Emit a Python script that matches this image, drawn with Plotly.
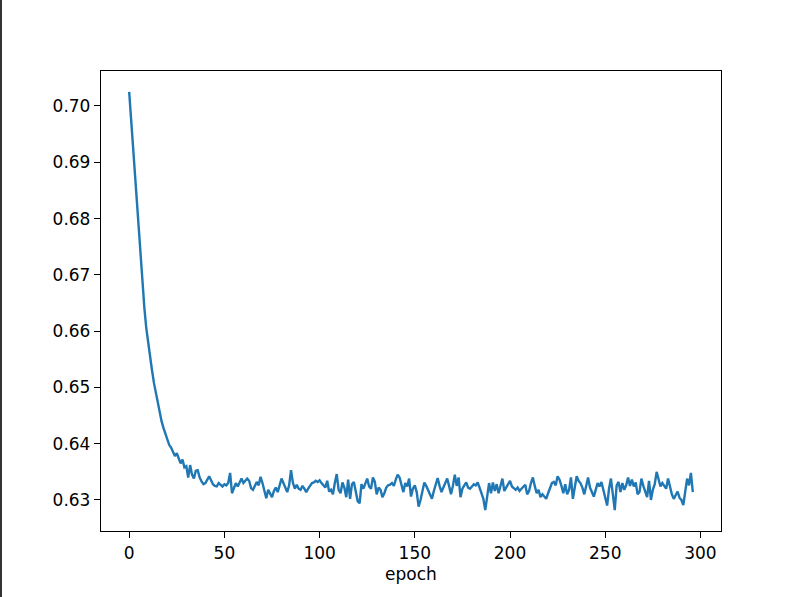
import plotly.graph_objects as go

# loss per epoch
loss = [
    0.7025, 0.6975, 0.6925, 0.6874, 0.6824, 0.6775, 0.6727, 0.6680, 0.6640, 0.6605,
    0.6578, 0.6555, 0.6530, 0.6508, 0.6490, 0.6470, 0.6452, 0.6440, 0.6428, 0.6418,
    0.6410, 0.6398, 0.6393, 0.6386, 0.6378, 0.6383, 0.6372, 0.6365, 0.6372, 0.6358,
    0.6360, 0.6340, 0.6362, 0.6345, 0.6338, 0.6352, 0.6353, 0.6340, 0.6333, 0.6328,
    0.6330, 0.6337, 0.6342, 0.6335, 0.6328, 0.6325, 0.6324, 0.6330, 0.6326, 0.6324,
    0.6328, 0.6326, 0.6330, 0.6348, 0.6312, 0.6322, 0.6330, 0.6324, 0.6332, 0.6338,
    0.6330, 0.6334, 0.6338, 0.6334, 0.6321, 0.6318, 0.6326, 0.6332, 0.6326, 0.6341,
    0.6330, 0.6315, 0.6303, 0.6318, 0.6312, 0.6305, 0.6316, 0.6322, 0.6314, 0.6328,
    0.6338, 0.6330, 0.6322, 0.6314, 0.6326, 0.6353, 0.6330, 0.6320, 0.6327, 0.6320,
    0.6318, 0.6325, 0.6320, 0.6314, 0.6320, 0.6326, 0.6330, 0.6331, 0.6334, 0.6332,
    0.6335, 0.6330, 0.6326, 0.6322, 0.6334, 0.6315, 0.6318, 0.6310, 0.6330, 0.6346,
    0.6318, 0.6312, 0.6331, 0.6322, 0.6305, 0.6336, 0.6302, 0.6328, 0.6332, 0.6314,
    0.6298, 0.6294, 0.6328, 0.6320, 0.6328, 0.6338, 0.6324, 0.6320, 0.6340, 0.6332,
    0.6310, 0.6322, 0.6318, 0.6305, 0.6312, 0.6322, 0.6326, 0.6327, 0.6330, 0.6325,
    0.6336, 0.6345, 0.6340, 0.6328, 0.6314, 0.6330, 0.6324, 0.6338, 0.6306, 0.6320,
    0.6326, 0.6314, 0.6288, 0.6300, 0.6316, 0.6331, 0.6325, 0.6318, 0.6310, 0.6302,
    0.6316, 0.6330, 0.6339, 0.6325, 0.6314, 0.6322, 0.6330, 0.6338, 0.6325, 0.6310,
    0.6325, 0.6345, 0.6325, 0.6340, 0.6305, 0.6320, 0.6326, 0.6331, 0.6322, 0.6320,
    0.6324, 0.6328, 0.6326, 0.6331, 0.6322, 0.6310, 0.6302, 0.6282, 0.6310, 0.6330,
    0.6312, 0.6331, 0.6316, 0.6328, 0.6312, 0.6325, 0.6338, 0.6316, 0.6322, 0.6328,
    0.6334, 0.6324, 0.6320, 0.6318, 0.6322, 0.6316, 0.6320, 0.6324, 0.6327, 0.6310,
    0.6316, 0.6330, 0.6340, 0.6325, 0.6312, 0.6318, 0.6305, 0.6310, 0.6306, 0.6302,
    0.6312, 0.6322, 0.6330, 0.6332, 0.6326, 0.6342, 0.6336, 0.6325, 0.6312, 0.6328,
    0.6310, 0.6318, 0.6340, 0.6302, 0.6326, 0.6342, 0.6334, 0.6330, 0.6322, 0.6310,
    0.6325, 0.6340, 0.6322, 0.6312, 0.6306, 0.6318, 0.6330, 0.6324, 0.6332, 0.6318,
    0.6305, 0.6290, 0.6320, 0.6338, 0.6310, 0.6282, 0.6326, 0.6332, 0.6314, 0.6330,
    0.6318, 0.6326, 0.6340, 0.6325, 0.6336, 0.6324, 0.6331, 0.6310, 0.6314, 0.6338,
    0.6325, 0.6314, 0.6305, 0.6334, 0.6300, 0.6318, 0.6328, 0.6350, 0.6336, 0.6324,
    0.6330, 0.6326, 0.6320, 0.6338, 0.6322, 0.6310, 0.6302, 0.6310, 0.6315, 0.6304,
    0.6300, 0.6291, 0.6320, 0.6338, 0.6326, 0.6348, 0.6314,
]
epochs = list(range(len(loss)))

x_ticks = [0, 50, 100, 150, 200, 250, 300]
y_ticks = [0.63, 0.64, 0.65, 0.66, 0.67, 0.68, 0.69, 0.70]
x_label = "epoch"

xspan = epochs[-1] - epochs[0]
yspan = max(loss) - min(loss)

fig = go.Figure(
    go.Scatter(x=epochs, y=loss, mode="lines",
               line=dict(color="#1f77b4", width=2.4), showlegend=False)
)

font = dict(family="DejaVu Sans", size=17, color="black")
axis_common = dict(
    showline=True, linewidth=1.3, linecolor="black", mirror=True,
    ticks="outside", ticklen=6, tickwidth=1.3, tickcolor="black",
    showgrid=False, zeroline=False, tickfont=font,
)

fig.update_layout(
    width=800, height=597,
    margin=dict(l=101, r=79, t=71, b=66),
    paper_bgcolor="white", plot_bgcolor="white",
    font=font,
    xaxis=dict(range=[epochs[0] - 0.05 * xspan, epochs[-1] + 0.05 * xspan],
               tickvals=x_ticks, ticktext=[str(v) for v in x_ticks],
               title=dict(text=x_label, font=font, standoff=6),
               **axis_common),
    yaxis=dict(range=[min(loss) - 0.05 * yspan, max(loss) + 0.05 * yspan],
               tickvals=y_ticks, ticktext=[f"{v:.2f}" for v in y_ticks],
               **axis_common),
    shapes=[dict(type="rect", xref="paper", yref="paper",
                 x0=-101 / 620, x1=-99 / 620, y0=-66 / 460, y1=1 + 71 / 460,
                 fillcolor="#333333", line=dict(width=0), layer="above")],
)

fig.write_html("out.html",
               config={"displayModeBar": False},
               post_script="document.body.style.margin='0';document.body.style.overflow='hidden';")
